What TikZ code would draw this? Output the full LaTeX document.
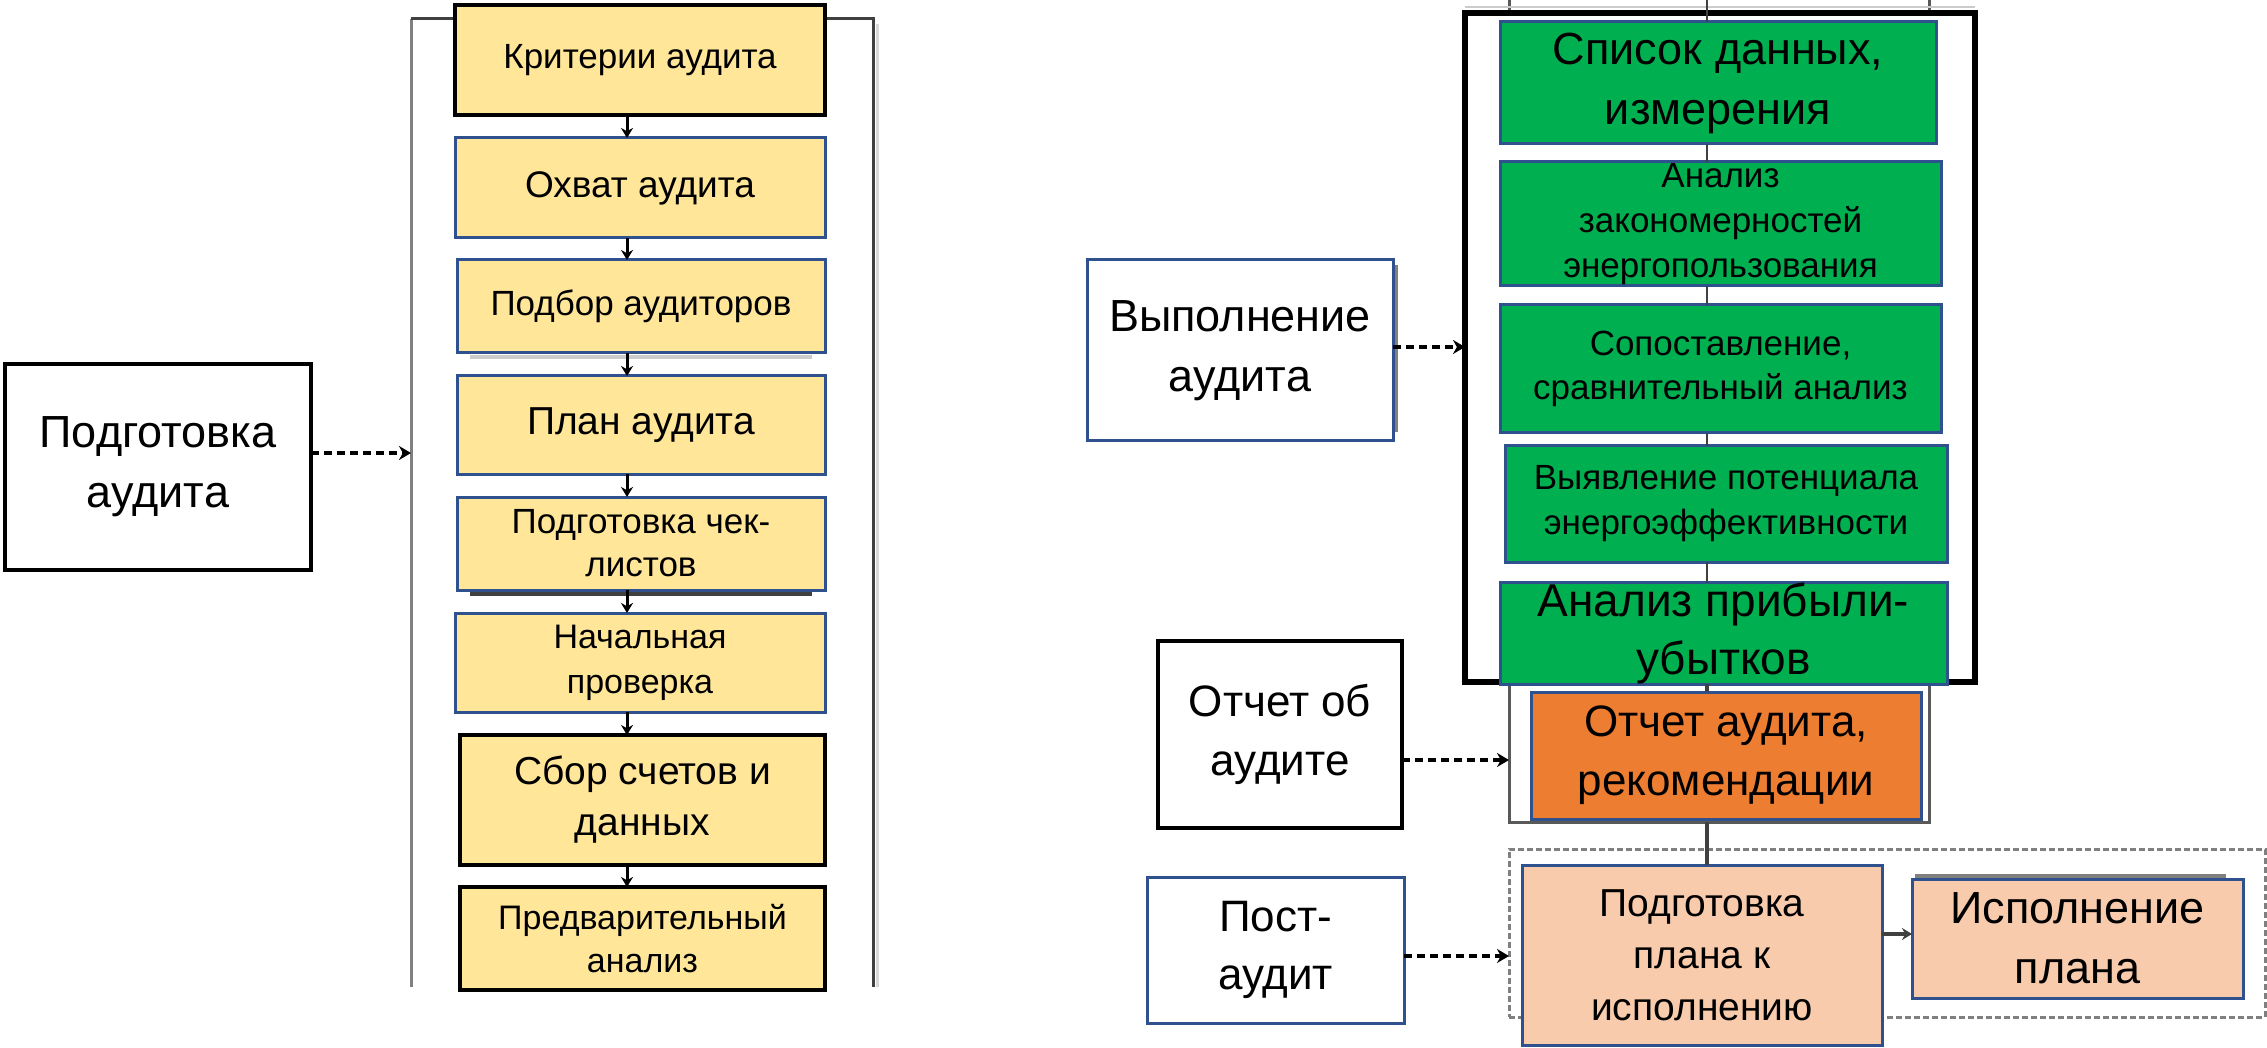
\documentclass[tikz,border=0pt]{standalone}
\usepackage{fontspec}
\setmainfont{Liberation Sans}
\usetikzlibrary{arrows.meta}
\definecolor{yel}{HTML}{FFE699}
\definecolor{bblue}{HTML}{2F528F}
\definecolor{grn}{HTML}{00B050}
\definecolor{org}{HTML}{ED7D31}
\definecolor{peach}{HTML}{F8CBAD}
\definecolor{dgray}{HTML}{404040}
\newcommand\fsz[2]{\fontsize{#1pt}{#2pt}\selectfont}
\begin{document}
\begin{tikzpicture}[x=0.5pt,y=-0.5pt,
  area/.style n args={4}{at={({(#1+#3)/2},{(#2+#4)/2})},
    minimum width={(#3-#1)*0.5pt}, minimum height={(#4-#2)*0.5pt}},
  base/.style={inner sep=0pt, outer sep=0pt, align=center, anchor=center},
  ybox/.style={base, draw=bblue, fill=yel, line width=1.5pt},
  ybk/.style={base, draw=black, fill=yel, line width=1.6pt},
  gbox/.style={base, draw=bblue, fill=grn, line width=1.5pt},
  obox/.style={base, draw=bblue, fill=org, line width=1.5pt},
  pbox/.style={base, draw=bblue, fill=peach, line width=1.5pt},
  wbl/.style={base, draw=bblue, fill=white, line width=1.5pt},
  wbk/.style={base, draw=black, fill=white, line width=1.7pt},
  arr/.style={line width=1.5pt, -{Stealth[length=5pt,width=6pt]}},
  darr/.style={line width=2pt, dash pattern=on 4pt off 2.5pt, -{Stealth[length=6pt,width=7pt]}},
  conn/.style={line width=1pt, dgray},
  connb/.style={line width=1.6pt, dgray},
  shade/.style={line width=1.6pt}
]
\useasboundingbox (0,0) rectangle (2267,1048);

% ---------- left frame ----------
\draw[line width=1.5pt, gray!30] (877,24) -- (877,987);
\draw[line width=1.5pt, gray] (411,987) -- (411,19);
\draw[line width=1.5pt, dgray] (411,19) -- (873,19) -- (873,987);

% ---------- left column ----------
\draw[shade, gray!40] (470,357) -- (812,357);
\draw[shade, dgray] (470,594) -- (812,594);
\node[ybk,  area={455}{5}{825}{115},   font=\fsz{17.5}{21}] (k1) {Критерии аудита};
\node[ybox, area={455}{138}{825}{238}, font=\fsz{18.5}{22}] (k2) {Охват аудита};
\node[ybox, area={457}{260}{825}{353}, font=\fsz{17.5}{21}] (k3) {Подбор аудиторов};
\node[ybox, area={457}{376}{825}{474}, font=\fsz{19.5}{23}] (k4) {План аудита};
\node[ybox, area={457}{497}{825}{590}, font=\fsz{17.5}{21.5}] (k5) {Подготовка чек-\\листов};
\node[ybox, area={455}{613}{825}{712}, font=\fsz{17}{22.5}] (k6) {Начальная\\проверка};
\node[ybk,  area={460}{735}{825}{865}, font=\fsz{19.5}{25.5}] (k7) {Сбор счетов и\\данных};
\node[ybk,  area={460}{887}{825}{990}, font=\fsz{17}{21.5}] (k8) {Предварительный\\анализ};

\coordinate (ax) at (627,0);
\foreach \a/\b in {k1/k2,k2/k3,k3/k4,k4/k5,k5/k6,k6/k7,k7/k8}
  \draw[arr] (\a.south -| ax) -- (\b.north -| ax);

\node[wbk, area={5}{364}{311}{570}, font=\fsz{22.5}{30}] (pa) {Подготовка\\аудита};
\coordinate (fl) at (411,453);
\draw[darr] (pa.east |- fl) -- (fl);

% ---------- right: execution frame ----------
\draw[line width=1.5pt, gray!70!black] (1509,0) -- (1509,822) -- (1929,822) -- (1929,0);
\draw[line width=1pt, gray!40] (1465,7) -- (1975,7);
\node[base, draw=black, fill=white, line width=2.75pt, area={1465}{13}{1975}{682}] (tf) {};

\coordinate (cx) at (1707,0);
\node[gbox, area={1500}{22}{1936}{144},  font=\fsz{22.5}{30}] (g1) {Список данных,\\измерения};
\node[gbox, area={1500}{162}{1941}{286}, font=\fsz{17.5}{22.5}] (g2) {Анализ\\закономерностей\\энергопользования};
\node[gbox, area={1500}{305}{1941}{433}, font=\fsz{17.5}{22}] (g3) {Сопоставление,\\сравнительный анализ};
\node[gbox, area={1505}{446}{1947}{562}, font=\fsz{17.5}{22.5}] (g4) {Выявление потенциала\\энергоэффективности};
\node[gbox, area={1500}{583}{1947}{684}, font=\fsz{23}{29}] (g5) {Анализ прибыли-\\убытков};
\node[obox, area={1531}{692}{1921}{819}, font=\fsz{22}{29.5}] (or) {Отчет аудита,\\рекомендации};

\draw[conn] (cx) -- (g1.north -| cx);
\foreach \a/\b in {g1/g2,g2/g3,g3/g4,g4/g5}
  \draw[conn] (\a.south -| cx) -- (\b.north -| cx);
\draw[connb] (g5.south -| cx) -- (or.north -| cx);

% ---------- post-audit group ----------
\node[base, draw=gray, line width=1.5pt, dash pattern=on 3pt off 1.5pt, area={1509}{849}{2265}{1017}] (grp) {};
\draw[shade, gray] (1915,876) -- (2226,876);
\node[pbox, area={1522}{865}{1882}{1045}, font=\fsz{19.5}{26}] (plan) {Подготовка\\плана к\\исполнению};
\node[pbox, area={1912}{879}{2243}{998}, font=\fsz{22.5}{30}] (exe) {Исполнение\\плана};
\coordinate (ofb) at (1707,822);
\draw[connb] (ofb) -- (plan.north -| cx);
\coordinate (pe) at (0,934);
\draw[line width=2pt, dgray, -{Stealth[length=5pt,width=6pt]}] (plan.east |- pe) -- (exe.west |- pe);

% ---------- right: phase boxes ----------
\draw[shade, gray] (1396,265) -- (1396,432);
\node[wbl, area={1087}{260}{1393}{441}, font=\fsz{22.5}{30}] (vyp) {Выполнение\\аудита};
\coordinate (vy) at (1465,347);
\draw[darr] (vyp.east |- vy) -- (vy);

\node[wbk, area={1158}{641}{1402}{828}, font=\fsz{22}{29.5}] (otc) {Отчет об\\аудите};
\coordinate (oy) at (1509,760);
\draw[darr] (otc.east |- oy) -- (oy);

\node[wbl, area={1147}{877}{1404}{1023}, font=\fsz{22}{29}] (post) {Пост-\\аудит};
\coordinate (py) at (0,956);
\draw[darr] (post.east |- py) -- (grp.west |- py);
\end{tikzpicture}
\end{document}
